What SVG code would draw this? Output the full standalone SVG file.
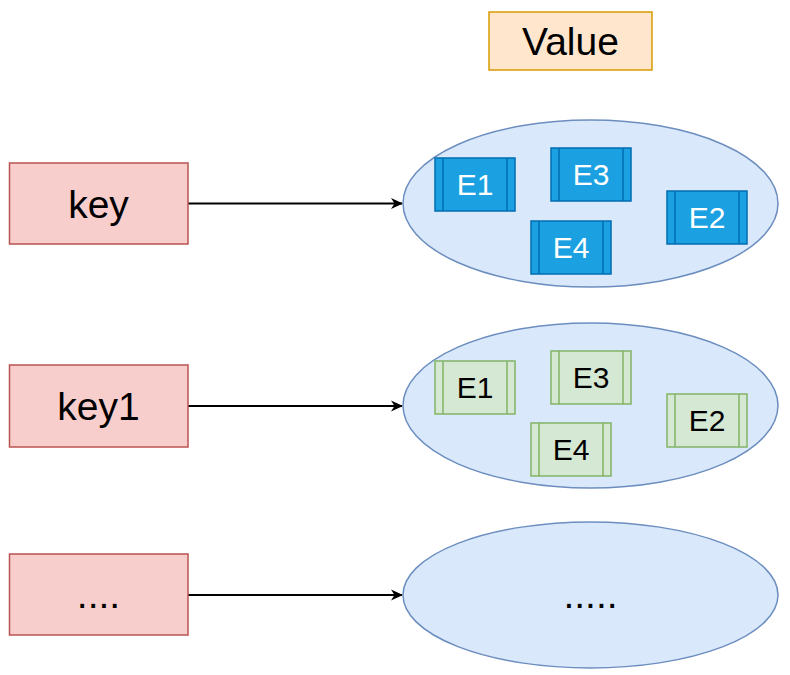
<svg xmlns="http://www.w3.org/2000/svg" width="790" height="675" viewBox="0 0 790 675">
<defs>
<style>
.key{fill:#f8cecc;stroke:#b85450;stroke-width:1.5}
.val{fill:#ffe6cc;stroke:#d79b00;stroke-width:1.5}
.ell{fill:#dae8fc;stroke:#6c8ebf;stroke-width:1.5}
.eb{fill:#1ba1e2;stroke:#006eaf;stroke-width:1.5}
.eg{fill:#d5e8d4;stroke:#82b366;stroke-width:1.5}
.lb{stroke:#006eaf;stroke-width:1.5}
.lg{stroke:#82b366;stroke-width:1.5}
.t{font-family:"Liberation Sans",Arial,sans-serif;text-anchor:middle}
.big{font-size:39px;fill:#000}
.ew{font-size:30px;fill:#fff}
.ek{font-size:30px;fill:#000}
.edge{stroke:#000;stroke-width:1.8;fill:none}
</style>
<marker id="arr" viewBox="0 0 12 12" refX="11" refY="6" markerWidth="12" markerHeight="12" markerUnits="userSpaceOnUse" orient="auto">
<path d="M0,0.5 L12,6 L0,11.5 L3.5,6 Z" fill="#000"/>
</marker>
</defs>
<rect width="790" height="675" fill="#fff"/>

<g id="value-label">
<rect class="val" x="489" y="12" width="163" height="58"/>
<text class="t big" x="570.5" y="55">Value</text>
</g>

<g id="connectors">
<line class="edge" x1="188" y1="203.5" x2="402" y2="203.5" marker-end="url(#arr)"/>
<line class="edge" x1="188" y1="406" x2="402" y2="406" marker-end="url(#arr)"/>
<line class="edge" x1="188" y1="595" x2="402" y2="595" marker-end="url(#arr)"/>
</g>

<g id="key">
<rect class="key" x="9.5" y="163" width="178.5" height="81"/>
<text class="t big" x="98.5" y="217.5">key</text>
</g>
<g id="key1">
<rect class="key" x="9.5" y="365" width="178.5" height="82"/>
<text class="t big" x="98.5" y="420">key1</text>
</g>
<g id="key-more">
<rect class="key" x="9.5" y="554" width="178.5" height="81"/>
<text class="t big" x="98.5" y="608">....</text>
</g>

<g id="value1">
<ellipse class="ell" cx="590.5" cy="203.5" rx="187.5" ry="83.5"/>
<g id="v1-e1"><rect class="eb" x="435" y="158" width="80" height="53"/><line class="lb" x1="443" y1="158" x2="443" y2="211"/><line class="lb" x1="507" y1="158" x2="507" y2="211"/><text class="t ew" x="475" y="195">E1</text></g>
<g id="v1-e3"><rect class="eb" x="551" y="148" width="80" height="53"/><line class="lb" x1="559" y1="148" x2="559" y2="201"/><line class="lb" x1="623" y1="148" x2="623" y2="201"/><text class="t ew" x="591" y="185">E3</text></g>
<g id="v1-e2"><rect class="eb" x="667" y="191" width="80" height="53"/><line class="lb" x1="675" y1="191" x2="675" y2="244"/><line class="lb" x1="739" y1="191" x2="739" y2="244"/><text class="t ew" x="707" y="228">E2</text></g>
<g id="v1-e4"><rect class="eb" x="531" y="221" width="80" height="53"/><line class="lb" x1="539" y1="221" x2="539" y2="274"/><line class="lb" x1="603" y1="221" x2="603" y2="274"/><text class="t ew" x="571" y="258">E4</text></g>
</g>

<g id="value2">
<ellipse class="ell" cx="590.5" cy="405.5" rx="187.5" ry="82.5"/>
<g id="v2-e1"><rect class="eg" x="435" y="361" width="80" height="53"/><line class="lg" x1="443" y1="361" x2="443" y2="414"/><line class="lg" x1="507" y1="361" x2="507" y2="414"/><text class="t ek" x="475" y="398">E1</text></g>
<g id="v2-e3"><rect class="eg" x="551" y="351" width="80" height="53"/><line class="lg" x1="559" y1="351" x2="559" y2="404"/><line class="lg" x1="623" y1="351" x2="623" y2="404"/><text class="t ek" x="591" y="388">E3</text></g>
<g id="v2-e2"><rect class="eg" x="667" y="394" width="80" height="53"/><line class="lg" x1="675" y1="394" x2="675" y2="447"/><line class="lg" x1="739" y1="394" x2="739" y2="447"/><text class="t ek" x="707" y="431">E2</text></g>
<g id="v2-e4"><rect class="eg" x="531" y="423" width="80" height="53"/><line class="lg" x1="539" y1="423" x2="539" y2="476"/><line class="lg" x1="603" y1="423" x2="603" y2="476"/><text class="t ek" x="571" y="460">E4</text></g>
</g>

<g id="value3">
<ellipse class="ell" cx="590.5" cy="595" rx="187.5" ry="73"/>
<text class="t big" x="590.5" y="608">.....</text>
</g>
</svg>
